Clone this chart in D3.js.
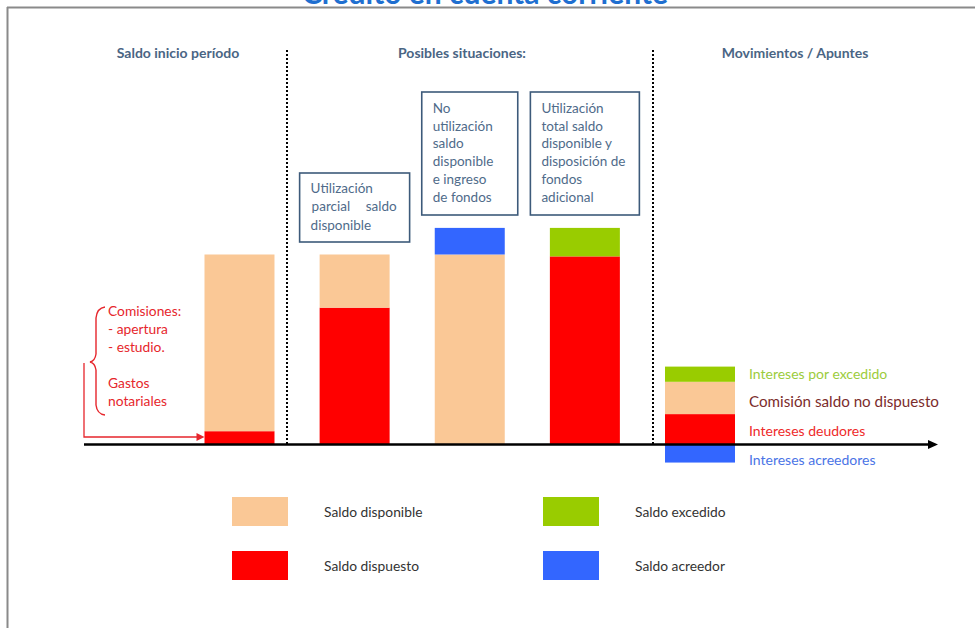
<!DOCTYPE html>
<html><head><meta charset="utf-8">
<script src="https://cdn.jsdelivr.net/npm/d3@7"></script>
<style>
html,body{margin:0;padding:0;background:#fff;}
svg{display:block;font-family:Lato,"Open Sans",sans-serif;}
</style></head>
<body>
<svg id="chart" width="975" height="628"></svg>
<script>
// ---- data ----
const categories = ["Saldo inicio", "Utilización parcial", "No utilización", "Utilización total", "Movimientos"];
const saldoDispuesto  = [7, 72, 0, 99, 16];
const saldoDisponible = [93, 28, 100, 0, 17];
const saldoExcedido   = [0, 0, 0, 15, 8];
const saldoAcreedor   = [0, 0, 14, 0, -9.5];
const seriesKeys   = ["dispuesto", "disponible", "excedido", "acreedor"];
const seriesColors = ["#ff0000", "#fac896", "#99cc00", "#3366ff"];
const legendLabels = ["Saldo disponible", "Saldo dispuesto", "Saldo excedido", "Saldo acreedor"];
const legendKeys   = ["disponible", "dispuesto", "excedido", "acreedor"];
const sectionTitles = ["Saldo inicio período", "Posibles situaciones:", "Movimientos / Apuntes"];
const boxTexts = [
  ["Utilización", ["parcial", "saldo"], "disponible"],
  ["No", "utilización", "saldo", "disponible", "e ingreso", "de fondos"],
  ["Utilización", "total saldo", "disponible y", "disposición de", "fondos", "adicional"]
];
const leftNotes = ["Comisiones:", "- apertura", "- estudio.", "Gastos", "notariales"];
const moveLabels = ["Intereses por excedido", "Comisión saldo no dispuesto", "Intereses deudores", "Intereses acreedores"];

const table = categories.map((c, i) => ({
  cat: c, dispuesto: saldoDispuesto[i], disponible: saldoDisponible[i],
  excedido: saldoExcedido[i], acreedor: saldoAcreedor[i]
}));
const color = d3.scaleOrdinal().domain(seriesKeys).range(seriesColors);

const svg = d3.select("#chart");

// frame
svg.append("line").attr("x1", 7).attr("x2", 975).attr("y1", 7.5).attr("y2", 7.5)
  .attr("stroke", "#8a8a8a").attr("stroke-width", 2);
svg.append("line").attr("x1", 7.5).attr("x2", 7.5).attr("y1", 7).attr("y2", 628)
  .attr("stroke", "#8a8a8a").attr("stroke-width", 2);

// title (cut off at the top, as in the original)
svg.append("text").attr("x", 485).attr("y", 4).attr("text-anchor", "middle")
  .attr("font-size", 30).attr("font-weight", "bold").attr("fill", "#1f6fd0")
  .text("Crédito en cuenta corriente");

// scales
const x = d3.scaleBand().domain(categories).range([204.5, 735]).paddingInner(0.392).paddingOuter(0);
const y = d3.scaleLinear().domain([0, 100]).range([444.5, 254.5]);

// stacked bars
const stack = d3.stack().keys(seriesKeys).offset(d3.stackOffsetDiverging);
const stacked = stack(table);
svg.append("g").selectAll("g").data(stacked).join("g")
  .attr("fill", d => color(d.key))
  .selectAll("rect").data(d => d).join("rect")
  .attr("x", d => x(d.data.cat))
  .attr("width", x.bandwidth())
  .attr("y", d => y(Math.max(d[0], d[1])))
  .attr("height", d => Math.abs(y(d[0]) - y(d[1])));

// baseline with arrow
const y0 = y(0);
svg.append("line").attr("x1", 84).attr("x2", 930).attr("y1", y0).attr("y2", y0)
  .attr("stroke", "#000").attr("stroke-width", 2.5);
svg.append("path").attr("d", `M928,${y0-4.5}L938,${y0}L928,${y0+4.5}Z`).attr("fill", "#000");

// dotted separators
const sep1 = x(categories[0]) + x.bandwidth() + 12.5;
const sep2 = x(categories[4]) - 12;
[sep1, sep2].forEach(sx => {
  svg.append("line").attr("x1", sx).attr("x2", sx).attr("y1", 50).attr("y2", y0)
    .attr("stroke", "#000").attr("stroke-width", 2).attr("stroke-dasharray", "2,2");
});

// section titles
const secX = [178, 462, 795];
sectionTitles.forEach((t, i) => {
  svg.append("text").attr("x", secX[i]).attr("y", 53).attr("dy", "0.35em")
    .attr("text-anchor", "middle").attr("font-size", 14).attr("font-weight", "bold")
    .attr("fill", "#4a6584").text(t);
});

// situation boxes
const boxes = [
  {cat: categories[1], w: 110, top: 173, bottom: 242, first: 188, step: 18.5},
  {cat: categories[2], w: 96, top: 92, bottom: 215, first: 108, step: 17.8},
  {cat: categories[3], w: 109, top: 92, bottom: 215, first: 108, step: 17.8}
];
boxes.forEach((b, i) => {
  const cx = x(b.cat) + x.bandwidth() / 2;
  const bx = cx - b.w / 2;
  svg.append("rect").attr("x", bx).attr("y", b.top).attr("width", b.w).attr("height", b.bottom - b.top)
    .attr("fill", "#fff").attr("stroke", "#3d5a7a").attr("stroke-width", 1.6);
  boxTexts[i].forEach((line, j) => {
    const ty = b.first + j * b.step;
    if (Array.isArray(line)) {
      svg.append("text").attr("x", bx + 12).attr("y", ty).attr("dy", "0.35em")
        .attr("font-size", 13.5).attr("fill", "#4f6b8a").text(line[0]);
      svg.append("text").attr("x", bx + b.w - 13).attr("y", ty).attr("dy", "0.35em")
        .attr("text-anchor", "end").attr("font-size", 13.5).attr("fill", "#4f6b8a").text(line[1]);
    } else {
      svg.append("text").attr("x", bx + 11).attr("y", ty).attr("dy", "0.35em")
        .attr("font-size", 13.5).attr("fill", "#4f6b8a").text(line);
    }
  });
});

// left red notes
const noteY = [311, 329, 347, 383, 401];
leftNotes.forEach((t, i) => {
  svg.append("text").attr("x", 108).attr("y", noteY[i]).attr("dy", "0.35em")
    .attr("font-size", 13.8).attr("fill", "#e6262c").text(t);
});
// brace
svg.append("path")
  .attr("d", "M105,307 Q97,308 96,318 L96,354 Q95,361 90,362 Q95,363 96,370 L96,405 Q97,414 105,415")
  .attr("fill", "none").attr("stroke", "#e6262c").attr("stroke-width", 1.4);
// arrow to first bar
const arrowY = 437;
const barLeft = x(categories[0]);
svg.append("path").attr("d", `M84,363 L84,${arrowY} L${barLeft - 7},${arrowY}`)
  .attr("fill", "none").attr("stroke", "#e6262c").attr("stroke-width", 1.3);
svg.append("path").attr("d", `M${barLeft - 8},${arrowY - 4}L${barLeft},${arrowY}L${barLeft - 8},${arrowY + 4}Z`)
  .attr("fill", "#e6262c");

// movement labels
const moveY = [374, 402, 431, 460];
const moveColors = ["#9ccc3c", "#7b2c2c", "#ee2a2a", "#4a74e6"];
const moveSizes = [14, 15.2, 14, 14];
moveLabels.forEach((t, i) => {
  svg.append("text").attr("x", 749).attr("y", moveY[i]).attr("dy", "0.35em")
    .attr("font-size", moveSizes[i]).attr("fill", moveColors[i]).text(t);
});

// legend
const legPos = [[232, 497], [232, 551], [543, 497], [543, 551]];
legendKeys.forEach((k, i) => {
  const [lx, ly] = legPos[i];
  svg.append("rect").attr("x", lx).attr("y", ly).attr("width", 56).attr("height", 29).attr("fill", color(k));
  svg.append("text").attr("x", lx + 92).attr("y", ly + 15).attr("dy", "0.35em")
    .attr("font-size", 13.8).attr("fill", "#333").text(legendLabels[i]);
});
</script>
</body></html>
